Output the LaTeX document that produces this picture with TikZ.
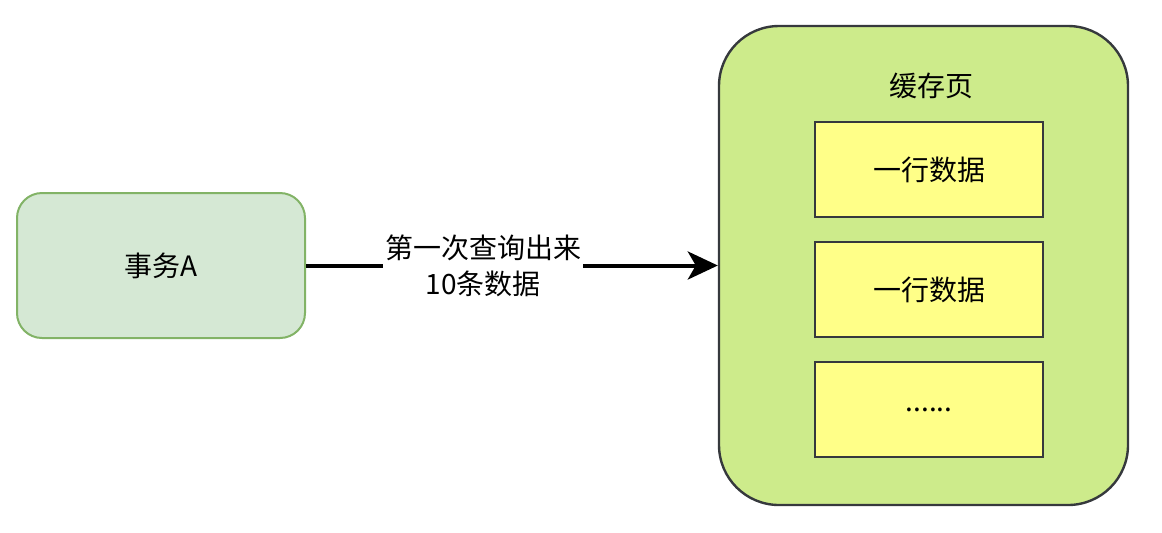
\documentclass[tikz,border=0pt]{standalone}
\usepackage{fontspec}
\setmainfont{Noto Sans CJK SC}
\usepackage{tikz}
\usetikzlibrary{arrows.meta, positioning}
\definecolor{transfill}{HTML}{D5E8D4}
\definecolor{transline}{HTML}{82B366}
\definecolor{cachefill}{HTML}{CDEB8B}
\definecolor{darkline}{HTML}{36393D}
\definecolor{rowfill}{HTML}{FFFF88}
\tikzset{
    trans/.style = {rectangle, draw=transline, fill=transfill, line width=1pt, rounded corners=12.5pt, minimum width=144pt, minimum height=72.5pt},
    cache/.style = {rectangle, draw=darkline, fill=cachefill, line width=1.2pt, rounded corners=30pt, minimum width=204.5pt, minimum height=239.5pt},
    datarow/.style = {rectangle, draw=darkline, fill=rowfill, line width=1pt, text centered, minimum width=114pt, minimum height=47.5pt},
    line/.style = {draw, -{Stealth[length=15pt, width=14pt, inset=4pt]}, line width=2pt},
    lbl/.style = {fill=white, align=center, inner sep=1pt}
}

\begin{document}
\begin{tikzpicture}[x=0.5pt, y=-0.5pt, node distance=11.5pt, font=\fontsize{14pt}{18pt}\selectfont]
        \useasboundingbox (0,0) rectangle (1162,532);

        % Transaction
        \node [trans] (trans) at (161,265.5) {事务A};

        % Cache page
        \node [cache] (cache) at (923.5,265.5) {};
        \node (title) at (931,86) {缓存页};

        % Rows
        \node [datarow] (row1) at (929,169.5) {一行数据};
        \node [datarow, below=of row1] (row2) {一行数据};
        \node [datarow, below=of row2] (row3) {......};

        % Arrows
        \path [line] (trans) -- (cache) node [lbl, pos=0.43] {第一次查询出来\\10条数据};

    \end{tikzpicture}
\end{document}
